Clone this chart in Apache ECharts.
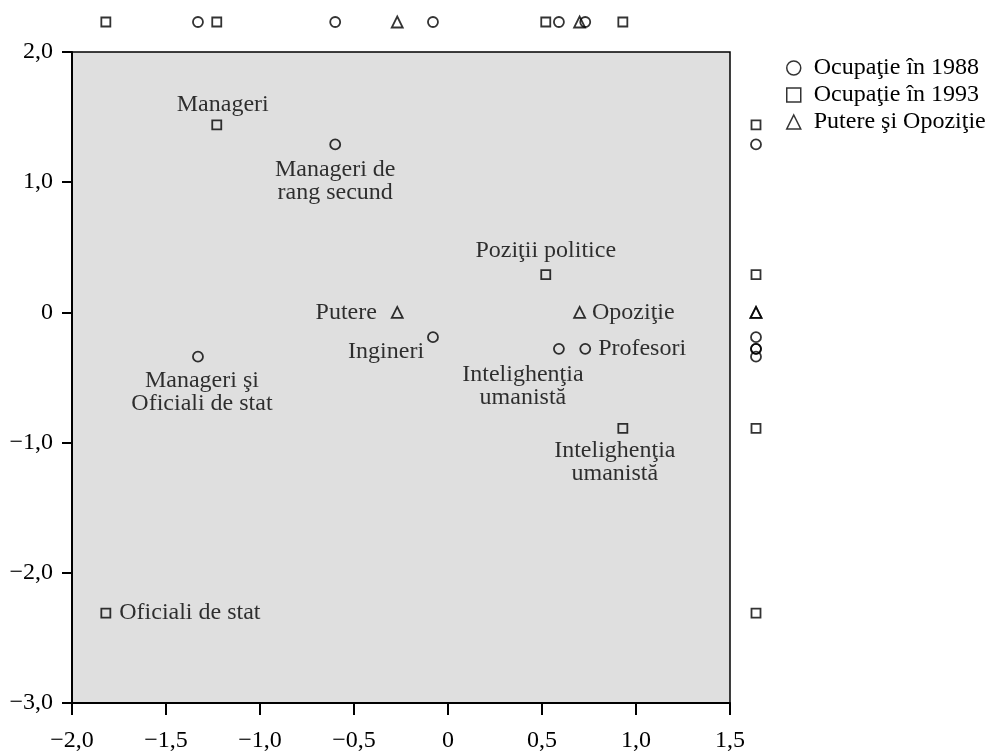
<!DOCTYPE html>
<html>
<head>
<meta charset="utf-8">
<script src="https://cdn.jsdelivr.net/npm/echarts@6/dist/echarts.min.js"></script>
<style>html,body{margin:0;padding:0;background:#fff;}#c{width:991px;height:751px;}</style>
</head>
<body>
<div id="c"></div>
<script>
// ---- data ----
const seriesNames = ['Ocupaţie în 1988', 'Ocupaţie în 1993', 'Putere şi Opoziţie'];

const circleNames = ['Manageri de\nrang secund', 'Manageri şi\nOficiali de stat', 'Ingineri', 'Intelighenţia\numanistă', 'Profesori'];
const circleX = [-0.60, -1.33, -0.08, 0.59, 0.73];
const circleY = [1.29, -0.34, -0.19, -0.28, -0.28];

const squareNames = ['Manageri', 'Oficiali de stat', 'Poziţii politice', 'Intelighenţia\numanistă'];
const squareX = [-1.23, -1.82, 0.52, 0.93];
const squareY = [1.44, -2.31, 0.29, -0.89];

const triNames = ['Putere', 'Opoziţie'];
const triX = [-0.27, 0.70];
const triY = [0.00, 0.00];

const xTicks = [-2.0, -1.5, -1.0, -0.5, 0, 0.5, 1.0, 1.5];
const yTicks = [-3.0, -2.0, -1.0, 0, 1.0, 2.0];

// ---- styling ----
const FONT = 'Liberation Serif';
const FS = 24;
const circleLabelStyle = [
  {position: 'bottom', distance: 8, align: 'center'},
  {position: 'bottom', distance: 7, offset: [4, 0], align: 'center'},
  {position: 'left', distance: 3, offset: [0, 15], align: 'right'},
  {position: 'bottom', distance: 8, offset: [-36, 0], align: 'center'},
  {position: 'right', distance: 7, align: 'left'}
];
const squareLabelStyle = [
  {position: 'top', distance: 3, offset: [6, 0], align: 'center'},
  {position: 'right', distance: 8, align: 'left'},
  {position: 'top', distance: 7, align: 'center'},
  {position: 'bottom', distance: 6, offset: [-8, 0], align: 'center'}
];
const triLabelStyle = [
  {position: 'left', distance: 14, align: 'right'},
  {position: 'right', distance: 6, align: 'left'}
];

function fmt(v) {
  if (Math.abs(v) < 1e-9) return '0';
  return (v < 0 ? '\u2212' : '') + Math.abs(v).toFixed(1).replace('.', ',');
}

function pts(names, xs, ys, styles) {
  return names.map((n, i) => ({
    name: n,
    value: [xs[i], ys[i]],
    label: Object.assign({show: true, formatter: n}, styles[i])
  }));
}

const markerStyle = {color: 'rgba(0,0,0,0)', borderColor: '#000', borderWidth: 1.8};
const labelBase = {color: '#000', fontFamily: FONT, fontSize: FS, lineHeight: 23};

const symbols = ['circle', 'rect', 'triangle'];
const sizes = [10, 9, 11];
const groups = [
  [circleNames, circleX, circleY, circleLabelStyle],
  [squareNames, squareX, squareY, squareLabelStyle],
  [triNames, triX, triY, triLabelStyle]
];

const series = [];
groups.forEach((g, k) => {
  series.push({
    name: seriesNames[k],
    type: 'scatter',
    xAxisIndex: 0, yAxisIndex: 0,
    symbol: symbols[k],
    symbolSize: sizes[k],
    itemStyle: markerStyle,
    label: labelBase,
    data: pts(g[0], g[1], g[2], g[3]),
    z: 3
  });
  // top rug (x positions)
  series.push({
    name: 'rugX' + k,
    type: 'scatter',
    xAxisIndex: 1, yAxisIndex: 1,
    symbol: symbols[k],
    symbolSize: sizes[k],
    itemStyle: markerStyle,
    data: g[1].map(x => [x, 0.5])
  });
  // right rug (y positions)
  series.push({
    name: 'rugY' + k,
    type: 'scatter',
    xAxisIndex: 2, yAxisIndex: 2,
    symbol: symbols[k],
    symbolSize: sizes[k],
    itemStyle: markerStyle,
    data: g[2].map(y => [0.5, y])
  });
});

const axisFont = {color: '#000', fontFamily: FONT, fontSize: 24};

const option = {
  animation: false,
  backgroundColor: '#fff',
  legend: {
    data: seriesNames.map((n, k) => ({name: n, icon: symbols[k]})),
    orient: 'vertical',
    left: 781,
    top: 51,
    itemWidth: 14,
    itemHeight: 14,
    itemGap: 3,
    selectedMode: false,
    textStyle: {color: '#000', fontFamily: FONT, fontSize: 24, padding: [0, 0, 0, 8]},
    itemStyle: {color: 'rgba(0,0,0,0)', borderColor: '#000', borderWidth: 1.5}
  },
  grid: [
    {left: 72, right: 261, top: 52, bottom: 48, show: true, backgroundColor: '#dfdfdf', borderColor: '#000', borderWidth: 1.5, containLabel: false, outerBoundsMode: 'none'},
    {left: 72, right: 261, top: 12, height: 20, show: false, outerBoundsMode: 'none'},
    {left: 746, width: 20, top: 52, bottom: 48, show: false, outerBoundsMode: 'none'}
  ],
  xAxis: [
    {
      type: 'value', gridIndex: 0, min: xTicks[0], max: xTicks[xTicks.length - 1], interval: 0.5,
      axisLine: {show: true, onZero: false, lineStyle: {color: '#000', width: 2}},
      axisTick: {show: true, length: 12, lineStyle: {color: '#000', width: 2}},
      axisLabel: Object.assign({margin: 26, formatter: fmt}, axisFont),
      splitLine: {show: false}
    },
    {type: 'value', gridIndex: 1, min: xTicks[0], max: xTicks[xTicks.length - 1], show: false},
    {type: 'value', gridIndex: 2, min: 0, max: 1, show: false}
  ],
  yAxis: [
    {
      type: 'value', gridIndex: 0, min: yTicks[0], max: yTicks[yTicks.length - 1], interval: 1,
      axisLine: {show: true, onZero: false, lineStyle: {color: '#000', width: 2}},
      axisTick: {show: true, length: 10, lineStyle: {color: '#000', width: 2}},
      axisLabel: Object.assign({margin: 19, formatter: fmt}, axisFont),
      splitLine: {show: false}
    },
    {type: 'value', gridIndex: 1, min: 0, max: 1, show: false},
    {type: 'value', gridIndex: 2, min: yTicks[0], max: yTicks[yTicks.length - 1], show: false}
  ],
  series: series
};

const chart = echarts.init(document.getElementById('c'), null, {renderer: 'canvas'});
chart.setOption(option);
</script>
</body>
</html>
